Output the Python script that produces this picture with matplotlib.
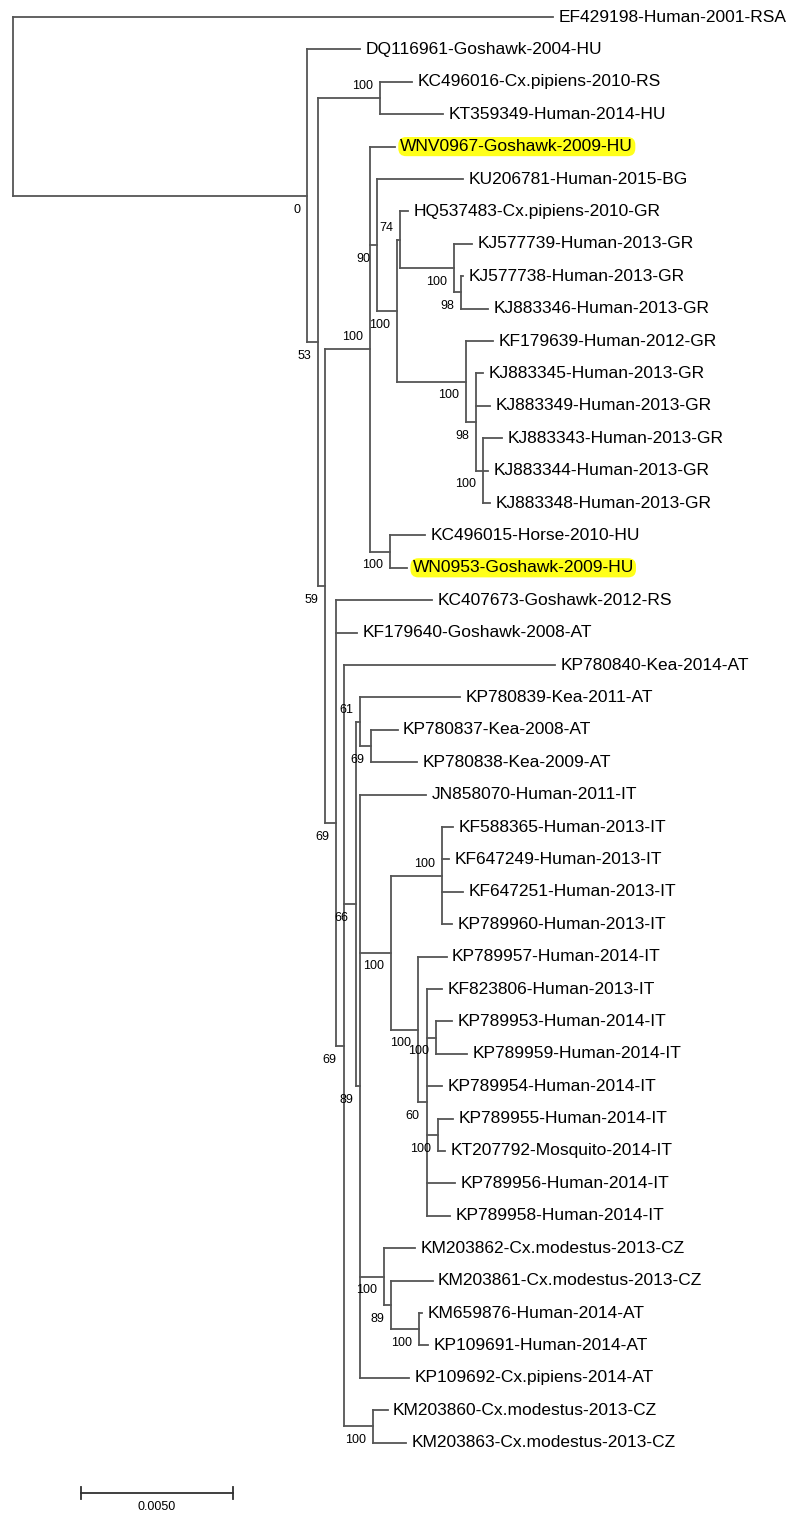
import matplotlib.pyplot as plt
from matplotlib.collections import LineCollection

plt.rcParams['font.family'] = ['Liberation Sans', 'DejaVu Sans']

# leaves, top to bottom, with the node they hang from and branch length (subst./site)
leaf_names = [
    "EF429198-Human-2001-RSA", "DQ116961-Goshawk-2004-HU", "KC496016-Cx.pipiens-2010-RS",
    "KT359349-Human-2014-HU", "WNV0967-Goshawk-2009-HU", "KU206781-Human-2015-BG",
    "HQ537483-Cx.pipiens-2010-GR", "KJ577739-Human-2013-GR", "KJ577738-Human-2013-GR",
    "KJ883346-Human-2013-GR", "KF179639-Human-2012-GR", "KJ883345-Human-2013-GR",
    "KJ883349-Human-2013-GR", "KJ883343-Human-2013-GR", "KJ883344-Human-2013-GR",
    "KJ883348-Human-2013-GR", "KC496015-Horse-2010-HU", "WN0953-Goshawk-2009-HU",
    "KC407673-Goshawk-2012-RS", "KF179640-Goshawk-2008-AT", "KP780840-Kea-2014-AT",
    "KP780839-Kea-2011-AT", "KP780837-Kea-2008-AT", "KP780838-Kea-2009-AT",
    "JN858070-Human-2011-IT", "KF588365-Human-2013-IT", "KF647249-Human-2013-IT",
    "KF647251-Human-2013-IT", "KP789960-Human-2013-IT", "KP789957-Human-2014-IT",
    "KF823806-Human-2013-IT", "KP789953-Human-2014-IT", "KP789959-Human-2014-IT",
    "KP789954-Human-2014-IT", "KP789955-Human-2014-IT", "KT207792-Mosquito-2014-IT",
    "KP789956-Human-2014-IT", "KP789958-Human-2014-IT", "KM203862-Cx.modestus-2013-CZ",
    "KM203861-Cx.modestus-2013-CZ", "KM659876-Human-2014-AT", "KP109691-Human-2014-AT",
    "KP109692-Cx.pipiens-2014-AT", "KM203860-Cx.modestus-2013-CZ", "KM203863-Cx.modestus-2013-CZ",
]
leaf_parent = [
    "root", "A", "C", "C", "E", "G", "J", "L", "M", "M", "K", "N", "N", "O", "O", "O",
    "H", "H", "F", "F", "P", "S", "U", "U", "T", "X", "X", "X", "X", "Y", "Z", "AA",
    "AA", "Z", "AB", "AB", "Z", "Z", "W", "AC", "AD", "AD", "T", "R", "R",
]
leaf_len = [
    0.01776, 0.00174, 0.00105, 0.00207, 0.00082, 0.00283, 0.00026, 0.00059, 0.00007,
    0.00089, 0.00089, 0.00023, 0.00046, 0.00063, 0.00016, 0.00023, 0.00115, 0.00056,
    0.00316, 0.00069, 0.00694, 0.00329, 0.00086, 0.00151, 0.00217, 0.00036, 0.00023,
    0.00069, 0.00033, 0.00095, 0.00049, 0.00053, 0.00102, 0.00049, 0.00049, 0.00023,
    0.00092, 0.00076, 0.00099, 0.00135, 0.00013, 0.00030, 0.00161, 0.00049, 0.00109,
]

# internal nodes
node_ids = ["A", "B", "C", "D", "E", "G", "I", "J", "L", "M", "K", "N", "O", "H", "F",
            "P", "Q", "S", "U", "T", "V", "X", "Y", "Z", "AA", "AB", "W", "AC", "AD", "R"]
node_parent = ["root", "A", "B", "B", "D", "E", "G", "I", "J", "L", "I", "K", "N", "E", "D",
               "F", "P", "Q", "S", "Q", "T", "V", "V", "Y", "Z", "Z", "T", "W", "AC", "P"]
node_len = [0.00967, 0.00036, 0.00204, 0.00023, 0.00148, 0.00023, 0.00066, 0.00010,
            0.00178, 0.00023, 0.00227, 0.00033, 0.00023, 0.00066, 0.00036, 0.00026,
            0.00039, 0.00016, 0.00036, 0.00016, 0.00099, 0.00168, 0.00089, 0.00030,
            0.00030, 0.00036, 0.00079, 0.00023, 0.00089, 0.00095]
node_support = [0, 53, 100, 59, 100, 90, 100, 74, 100, 98, 100, 98, 100, 100, 69,
                69, 66, 61, 69, 89, 100, 100, 100, 60, 100, 100, 100, 89, 100, 100]

highlighted = ["WNV0967-Goshawk-2009-HU", "WN0953-Goshawk-2009-HU"]
support_above = ["C", "E", "J", "S", "X"]
scale_len = 0.005

parent = dict(zip(leaf_names, leaf_parent))
parent.update(zip(node_ids, node_parent))
blen = dict(zip(leaf_names, leaf_len))
blen.update(zip(node_ids, node_len))

children = {}
for n in node_ids + leaf_names:
    children.setdefault(parent[n], []).append(n)

xpos = {"root": 0.0}
def get_x(n):
    if n not in xpos:
        xpos[n] = get_x(parent[n]) + blen[n]
    return xpos[n]

ypos = {name: i for i, name in enumerate(leaf_names)}
def get_y(n):
    if n not in ypos:
        ys = [get_y(c) for c in children[n]]
        ypos[n] = (min(ys) + max(ys)) / 2
    return ypos[n]

for n in ["root"] + node_ids + leaf_names:
    get_x(n)
    get_y(n)

segs = []
for n in node_ids + leaf_names:
    segs.append([(xpos[parent[n]], ypos[n]), (xpos[n], ypos[n])])
for n in ["root"] + node_ids:
    ys = [ypos[c] for c in children[n]]
    segs.append([(xpos[n], min(ys)), (xpos[n], max(ys))])

fig = plt.figure(figsize=(7.94, 15.13), dpi=100)
ax = fig.add_axes([0, 0, 1, 1])
ax.add_collection(LineCollection(segs, colors="#555555", linewidths=1.3, capstyle="projecting"))

for name in leaf_names:
    bbox = None
    if name in highlighted:
        bbox = dict(boxstyle="round,pad=0.12,rounding_size=0.45", fc="#ffff1a", ec="none")
    ax.annotate(name, (xpos[name], ypos[name]), xytext=(4, 0), textcoords="offset points",
                ha="left", va="center", fontsize=12.5, color="black", bbox=bbox)

for n, s in zip(node_ids, node_support):
    off = (-5, 8.5) if n in support_above else (-5, -10)
    ax.annotate(str(s), (xpos[n], ypos[n]), xytext=off, textcoords="offset points",
                ha="right", va="center", fontsize=9, color="black")

# scale bar
sb_x, sb_y = 0.00224, len(leaf_names) + 0.56
ax.plot([sb_x, sb_x + scale_len], [sb_y, sb_y], color="#303030", lw=1.3)
for xx in (sb_x, sb_x + scale_len):
    ax.plot([xx, xx], [sb_y - 0.18, sb_y + 0.18], color="#303030", lw=1.3)
ax.annotate("0.0050", (sb_x + scale_len / 2, sb_y), xytext=(0, -10), textcoords="offset points",
            ha="center", va="center", fontsize=9, color="black")

ax.set_xlim(-13 / 30400, 781 / 30400)
ax.set_ylim((1513 - 17) / 32.4, -17 / 32.4)
ax.axis("off")

fig.savefig("out.png", dpi=100)
